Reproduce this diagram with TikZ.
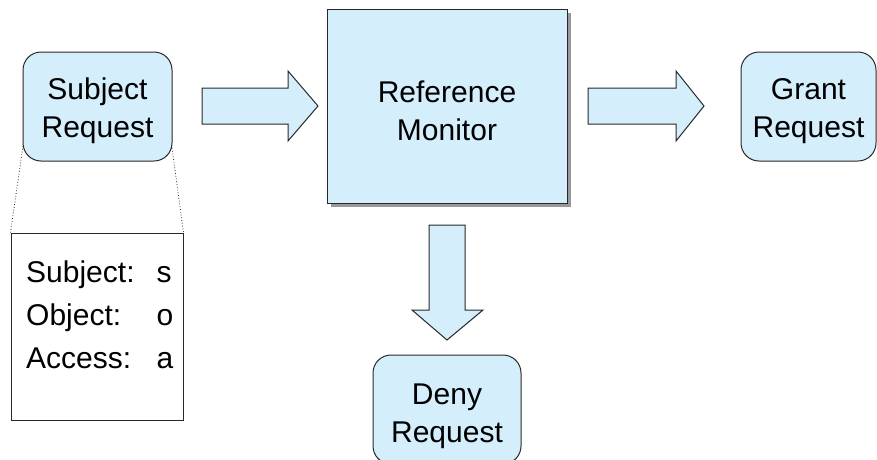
\documentclass[tikz,border=0pt]{standalone}
\usepackage{fontspec}
\setmainfont{Liberation Sans}
\definecolor{boxblue}{RGB}{212,238,252}
\definecolor{edgegray}{RGB}{40,40,40}
\newcommand{\lowerstrut}{\rule{0pt}{31pt}}
\tikzset{
  reqbox/.style={draw=edgegray, fill=boxblue, line width=1pt, rounded corners=18pt,
    align=center, inner sep=0pt, font=\fontsize{30}{38}\selectfont},
  monbox/.style={draw=edgegray, fill=boxblue, line width=1pt, align=center,
    inner sep=0pt, font=\fontsize{30}{38}\selectfont},
  blockarrow/.style={draw=edgegray, fill=boxblue, line width=1pt, line join=miter},
  zoomline/.style={draw=edgegray, dotted, line width=0.8pt}
}
\begin{document}
\begin{tikzpicture}[x=1pt, y=-1pt]
            \useasboundingbox (0,0) rectangle (877,459);

            % shadow behind the monitor
            \fill[black!40] (331,13) rectangle (571,207);

            \node[reqbox, minimum width=149pt, minimum height=109pt] (subj) at (97.5,106.5) {\lowerstrut Subject\\Request};
            \node[monbox, minimum width=240pt, minimum height=194pt] (mon) at (447,106) {\lowerstrut Reference\\Monitor};
            \node[reqbox, minimum width=135pt, minimum height=109pt] (grant) at (808.5,106.5) {\lowerstrut Grant\\Request};
            \node[reqbox, minimum width=148pt, minimum height=109pt] (deny) at (447,409.5) {\rule{0pt}{34pt}Deny\\Request};

            \node[draw=edgegray, line width=1pt, minimum width=172pt, minimum height=187pt, inner sep=0pt] (info) at (97,326.5) {};
            \node[anchor=north west, inner sep=0pt, font=\fontsize{30}{43}\selectfont] (fields) at (26,252)
              {\begin{tabular}{@{}l@{\hspace{22pt}}l@{}}
                Subject: & s\\
                Object: & o\\
                Access: & a
              \end{tabular}};

            \coordinate (cutL) at (23,146);
            \coordinate (cutR) at (172,148);
            \draw[zoomline] (cutL) -- (info.north west);
            \draw[zoomline] (cutR) -- (info.north east);

            % block arrows
            \draw[blockarrow] (202,88) -- (288,88) -- (288,71) -- (318,106) -- (288,141) -- (288,124) -- (202,124) -- cycle;
            \draw[blockarrow] (588,88) -- (676,88) -- (676,71) -- (704,106) -- (676,141) -- (676,124) -- (588,124) -- cycle;
            \draw[blockarrow] (429,225) -- (465,225) -- (465,310) -- (483,310) -- (447,340) -- (412,310) -- (429,310) -- cycle;
\end{tikzpicture}
\end{document}
